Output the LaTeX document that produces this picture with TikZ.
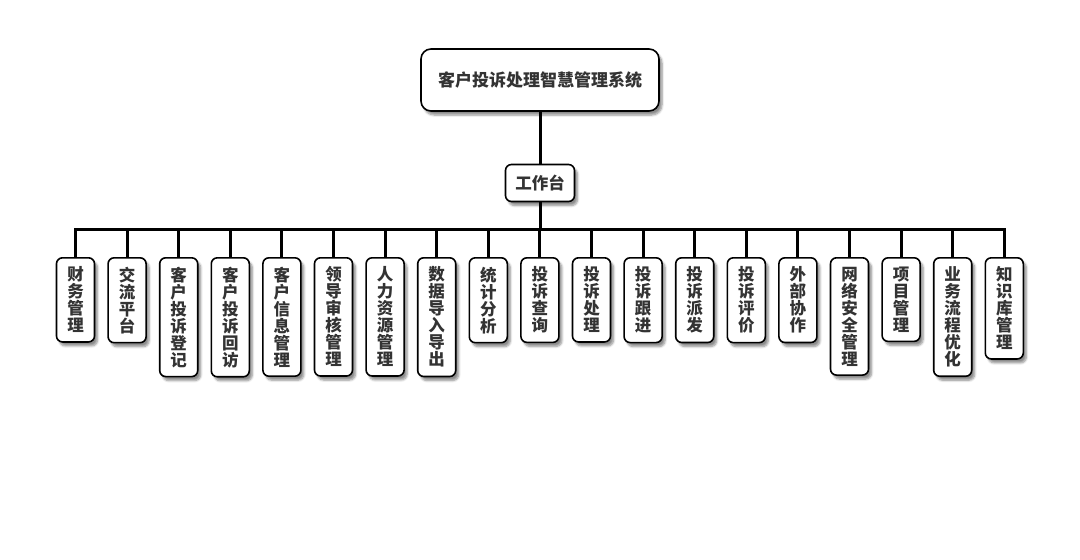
\documentclass[tikz,border=0pt]{standalone}
\usepackage{fontspec}
\setmainfont{Noto Sans CJK SC}
\usepackage{xcolor}
\usepackage{tikz}
\usetikzlibrary{positioning, shadows.blur}
\definecolor{txtgray}{HTML}{333333}

\tikzset{
  box/.style={draw, line width=1.6pt, rounded corners=6pt, fill=white, text=txtgray,
    blur shadow={shadow xshift=3pt, shadow yshift=-4pt, shadow blur steps=6, shadow opacity=45}},
  leaf/.style={box, anchor=north, minimum width=38, inner xsep=2pt, inner ysep=9pt, align=center,
    font=\bfseries\fontsize{16.5}{17}\selectfont},
  wire/.style={line width=3pt}
}

\begin{document}
\begin{tikzpicture}[x=1pt,y=-1pt]
    \useasboundingbox (0,0) rectangle (1080,560);

    % Systemtitel
    \node[box, rounded corners=10pt, minimum width=238, minimum height=62,
      font=\bfseries\fontsize{17}{20}\selectfont] (system) at (540,80) {客户投诉处理智慧管理系统};

    % Arbeitsplatz
    \node[box, minimum width=69, minimum height=37,
      font=\bfseries\fontsize{16.5}{20}\selectfont] (workbench) at (540,183) {工作台};

    % Sammelschiene
    \coordinate (bus) at (540,229);

    % Module
    \foreach \txt [count=\i] in {
      {财\\务\\管\\理}, {交\\流\\平\\台}, {客\\户\\投\\诉\\登\\记}, {客\\户\\投\\诉\\回\\访},
      {客\\户\\信\\息\\管\\理}, {领\\导\\审\\核\\管\\理}, {人\\力\\资\\源\\管\\理},
      {数\\据\\导\\入\\导\\出}, {统\\计\\分\\析}, {投\\诉\\查\\询}, {投\\诉\\处\\理},
      {投\\诉\\跟\\进}, {投\\诉\\派\\发}, {投\\诉\\评\\价}, {外\\部\\协\\作},
      {网\\络\\安\\全\\管\\理}, {项\\目\\管\\理}, {业\\务\\流\\程\\优\\化}, {知\\识\\库\\管\\理}}
    {
      \node[leaf] (leaf\i) at ({75.5+(\i-1)*51.6},257) {\txt};
      \draw[wire] (leaf\i.north) -- (leaf\i.north |- bus);
    }

    \draw[wire] (system.south) -- (workbench.north);
    \draw[wire] (workbench.south) -- (bus);
    \draw[wire, line cap=rect] (leaf1.north |- bus) -- (leaf19.north |- bus);
  \end{tikzpicture}
\end{document}
